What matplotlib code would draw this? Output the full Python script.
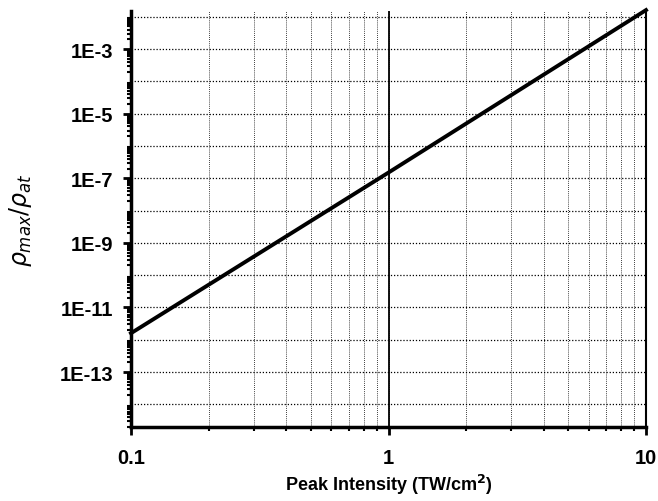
import matplotlib
matplotlib.use("Agg")
import matplotlib.pyplot as plt
import numpy as np
from matplotlib.ticker import LogLocator, NullFormatter

# peak intensity (TW/cm^2) and ratio
intensity = [0.1, 1.0, 10.0]
ratio = [1.6e-12, 1.5e-7, 1.6e-2]

ytick_vals = [1e-13, 1e-11, 1e-9, 1e-7, 1e-5, 1e-3]
ytick_labels = ["1E-13", "1E-11", "1E-9", "1E-7", "1E-5", "1E-3"]
xtick_vals = [0.1, 1, 10]
xtick_labels = ["0.1", "1", "10"]

plt.rcParams['font.family'] = ['Liberation Sans', 'DejaVu Sans']

fig = plt.figure(figsize=(6.58, 5.02), dpi=100)
ax = fig.add_axes([131 / 658, 1 - 428 / 502, 515 / 658, 416 / 502])

ax.set_xscale('log')
ax.set_yscale('log')
ax.set_xlim(0.1, 10)
ax.set_ylim(2e-15, 1.5e-2)

ax.yaxis.set_minor_locator(LogLocator(base=10, subs=np.arange(2, 10), numticks=30))
ax.yaxis.set_minor_formatter(NullFormatter())
ax.grid(True, which='both', axis='x', color='black', linestyle=(0, (1, 1.5)), linewidth=0.6)

ax.set_yticks(ytick_vals)
ax.set_yticklabels(ytick_labels)
# dotted gridline at every decade
for e in range(-14, -1):
    ax.axhline(10.0 ** e, color='black', linestyle=(0, (1, 1.5)), linewidth=0.9, zorder=0.5)
ax.set_xticks(xtick_vals)
ax.set_xticklabels(xtick_labels)

ax.axvline(1.0, color='black', linewidth=1.3)
ax.plot(intensity, ratio, color='black', linewidth=2.8, clip_on=False, zorder=5)

ax.spines['top'].set_visible(False)
ax.spines['left'].set_linewidth(2.5)
ax.spines['bottom'].set_linewidth(2.5)
ax.spines['right'].set_linewidth(1.5)

ax.tick_params(axis='both', which='major', direction='out', length=6, width=2,
               labelsize=14.5)
ax.tick_params(axis='y', which='major', pad=7)
ax.tick_params(axis='x', which='major', pad=9)
ax.tick_params(axis='both', which='minor', direction='out', length=3, width=1.5)
for lab in ax.get_xticklabels() + ax.get_yticklabels():
    lab.set_fontweight('bold')

ax.set_xlabel("Peak Intensity (TW/cm$^\\mathbf{2}$)", fontsize=13, fontweight='bold', labelpad=4)
ax.set_ylabel(r"$\rho_{max}/\rho_{at}$", fontsize=17, labelpad=18)

fig.savefig("out.png", dpi=100)
